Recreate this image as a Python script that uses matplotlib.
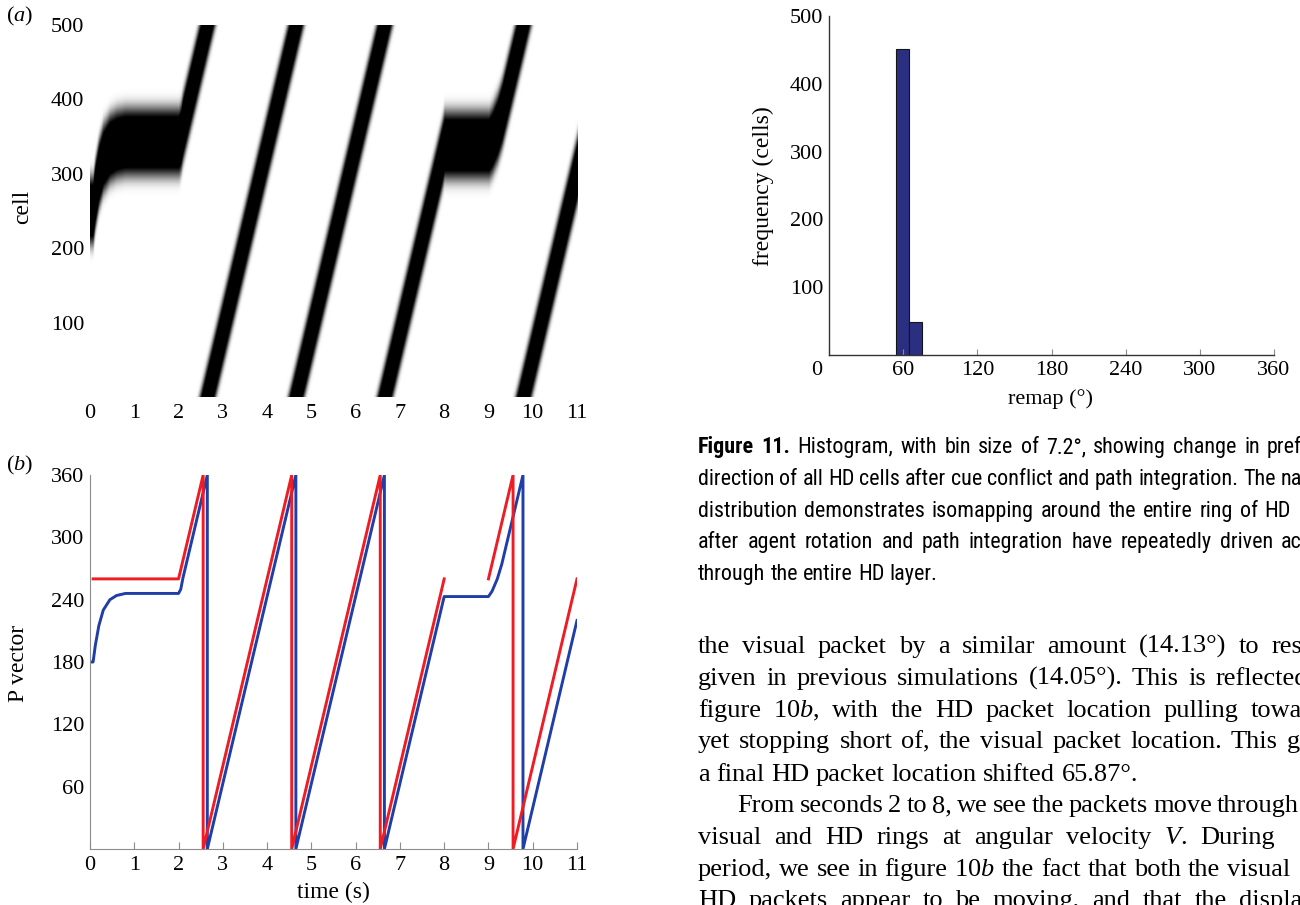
import numpy as np
import matplotlib
matplotlib.use("Agg")
import matplotlib.pyplot as plt
from matplotlib import font_manager as fm
from matplotlib.transforms import Affine2D, ScaledTranslation

W, H = 1300, 905

# ---- values ----
# (b) P vector direction (deg) against time (s): visual packet red, HD packet blue
vis_t = [0.07, 2.0, 2.556, 2.556, 4.556, 4.556, 6.556, 6.556, 8.0, np.nan,
         9.0, 9.556, 9.556, 11.0]
vis_deg = [260, 260, 360, 0, 360, 0, 360, 0, 260, np.nan, 260, 360, 0, 260]
hd_t = [0, 0.07, 0.12, 0.2, 0.3, 0.45, 0.6, 0.8, 2.0, 2.05, 2.1, 2.65, 2.65,
        4.65, 4.65, 6.65, 6.65, 8.0, 9.0, 9.08, 9.2, 9.3, 9.78, 9.78, 11.0]
hd_deg = [180, 180, 196, 215, 230, 240, 244, 246, 246, 250, 261, 360, 0,
          360, 0, 360, 0, 243, 243, 248, 260, 274, 360, 0, 220]

# (a) HD ring activity, 500 cells, packet follows the HD direction above
n_cells = 500

# figure 11 histogram
remap_edges = [54.5, 65.0, 75.5]
remap_counts = [452, 48]

time_ticks = list(range(12))
cell_ticks = [100, 200, 300, 400, 500]
pvec_ticks = [60, 120, 180, 240, 300, 360]
remap_ticks = [0, 60, 120, 180, 240, 300, 360]
freq_ticks = [100, 200, 300, 400, 500]

# page text: (line, baseline y px, start x px, justify-to x px or None)
caption = [
    ("Figure 11. Histogram, with bin size of 7.2°, showing change in pref", 453, 698, 1302),
    ("direction of all HD cells after cue conflict and path integration. The na", 485, 698, 1302),
    ("distribution demonstrates isomapping around the entire ring of HD", 517, 698, 1291),
    ("after agent rotation and path integration have repeatedly driven ac", 548, 698, 1302),
    ("through the entire HD layer.", 580, 698, None),
]
body = [
    ("the visual packet by a similar amount (14.13°) to res", 653, 698, 1302),
    ("given in previous simulations (14.05°). This is reflected", 685, 698, 1308),
    ("figure 10$b$, with the HD packet location pulling towa", 717, 698, 1302),
    ("yet stopping short of, the visual packet location. This g", 748, 698, 1300),
    ("a final HD packet location shifted 65.87°.", 781, 698, None),
    ("From seconds 2 to 8, we see the packets move through", 812, 737, 1299),
    ("visual and HD rings at angular velocity $V$. During", 844, 698, 1275),
    ("period, we see in figure 10$b$ the fact that both the visual", 876, 698, 1290),
    ("HD packets appear to be moving, and that the displa", 907, 698, 1302),
]

SERIF = "Liberation Serif"
plt.rcParams.update({
    "font.family": SERIF,
    "mathtext.fontset": "custom",
    "mathtext.rm": SERIF,
    "mathtext.it": SERIF + ":italic",
    "mathtext.bf": SERIF + ":bold",
})

# caption is set in a narrow sans on the page
have = {f.name for f in fm.fontManager.ttflist}
dv_cond = [f for f in fm.fontManager.ttflist
           if f.name == "DejaVu Sans" and "condensed" in str(f.stretch)]
if "Liberation Sans Narrow" in have:
    cap_font = {"family": "Liberation Sans Narrow"}
elif "Roboto Condensed" in have:
    cap_font = {"family": "Roboto Condensed"}
elif dv_cond:
    cap_font = {"family": "DejaVu Sans", "stretch": "condensed"}
else:
    cap_font = {"family": "Liberation Sans"}

BLUE = "#1f3ea8"
RED = "#ee1d25"
BAR = "#2b2f82"
AXGREY = "#8c8c8c"

fig = plt.figure(figsize=(W / 100, H / 100), dpi=100)
rend = fig.canvas.get_renderer()
PX = Affine2D().scale(1, -1).translate(0, H)  # page pixels, origin top left


def box(x0, y0, x1, y1):
    return [x0 / W, 1 - y1 / H, (x1 - x0) / W, (y1 - y0) / H]


def width_of(s, size, **font):
    t = fig.text(0, 0, s, fontsize=size, transform=PX, **font)
    w = t.get_window_extent(rend).width
    t.remove()
    return w


def text_line(s, x0, y, x_end, size, n_bold=0, **font):
    parts = []
    for i, word in enumerate(s.split(" ")):
        weight = "bold" if i < n_bold else "normal"
        t = fig.text(x0, y, word, transform=PX, fontsize=size,
                     va="baseline", weight=weight, **font)
        parts.append((t, t.get_window_extent(rend).width))
    used = sum(w for _, w in parts)
    if x_end is None or len(parts) < 2:
        gap = width_of("n n", size, **font) - width_of("nn", size, **font)
    else:
        gap = (x_end - x0 - used) / (len(parts) - 1)
    x = x0
    for t, w in parts:
        t.set_x(x)
        x += w + gap


TICK = 16

# ---------- (a) activity of the HD ring ----------
ax_a = fig.add_axes(box(90, 25, 577, 397))
tt = np.linspace(0, 11, 1101)
cells = np.arange(n_cells) + 0.5
centre = np.interp(tt, hd_t, hd_deg) * n_cells / 360.0
d = np.abs(cells[:, None] - centre[None, :])
d = np.minimum(d, n_cells - d)
act = np.exp(-(d / 46.0) ** 4)
ax_a.imshow(act, extent=[0, 11, 0, n_cells], origin="lower", aspect="auto",
            cmap="gray_r", vmin=0, vmax=0.75)
ax_a.set_xlim(0, 11)
ax_a.set_ylim(0, n_cells)
ax_a.set_xticks(time_ticks)
ax_a.set_yticks(cell_ticks)
for sp in ax_a.spines.values():
    sp.set_visible(False)
ax_a.tick_params(length=0, labelsize=TICK)
ax_a.tick_params(axis="x", pad=5)
ax_a.tick_params(axis="y", pad=4)
ax_a.set_ylabel("cell", fontsize=17, va="center")
ax_a.yaxis.set_label_coords(23, 207, transform=PX)
fig.text(20, 16, "($a$)", transform=PX, fontsize=16, ha="center", va="center")

# ---------- (b) P vector ----------
ax_b = fig.add_axes(box(90, 475, 577, 849))
ax_b.plot(hd_t, hd_deg, color=BLUE, lw=2.1)
ax_b.plot(vis_t, vis_deg, color=RED, lw=2.1)
ax_b.set_xlim(0, 11)
ax_b.set_ylim(0, 360)
ax_b.set_xticks(time_ticks)
ax_b.set_yticks(pvec_ticks)
ax_b.spines[["top", "right"]].set_visible(False)
for s in ("left", "bottom"):
    ax_b.spines[s].set_color(AXGREY)
    ax_b.spines[s].set_linewidth(0.8)
ax_b.tick_params(labelsize=TICK)
ax_b.tick_params(axis="x", direction="in", length=5, color=AXGREY, pad=5)
ax_b.tick_params(axis="y", length=0, pad=4)
ax_b.set_ylabel("P vector", fontsize=17, va="center")
ax_b.yaxis.set_label_coords(19, 663, transform=PX)
ax_b.set_xlabel("time (s)", fontsize=17, va="center")
ax_b.xaxis.set_label_coords(333, 892, transform=PX)
fig.text(20, 465, "($b$)", transform=PX, fontsize=16, ha="center", va="center")

# ---------- figure 11 histogram ----------
ax_h = fig.add_axes(box(829, 16, 1274, 355))
ax_h.bar(remap_edges[:-1], remap_counts, width=np.diff(remap_edges), align="edge",
         color=BAR, edgecolor="#151515", linewidth=0.8)
ax_h.set_xlim(0, 360)
ax_h.set_ylim(0, 500)
ax_h.set_xticks(remap_ticks)
ax_h.set_yticks(freq_ticks)
ax_h.spines[["top", "right"]].set_visible(False)
for s in ("left", "bottom"):
    ax_h.spines[s].set_color("#333333")
    ax_h.spines[s].set_linewidth(1.0)
ax_h.tick_params(labelsize=TICK)
ax_h.tick_params(axis="x", direction="in", length=4, color=AXGREY, pad=4)
ax_h.tick_params(axis="y", length=0, pad=4)
# the "0" sits a little left of the y axis on the page
zero = ax_h.get_xticklabels()[0]
zero.set_transform(zero.get_transform() + ScaledTranslation(-0.12, 0, fig.dpi_scale_trans))
ax_h.set_ylabel("frequency (cells)", fontsize=17, va="center")
ax_h.yaxis.set_label_coords(763, 186, transform=PX)
ax_h.set_xlabel("remap (°)", fontsize=16, va="center")
ax_h.xaxis.set_label_coords(1050, 399, transform=PX)

# ---------- caption and running text ----------
cap_size = 20 * 238 / width_of("through the entire HD layer.", 20, **cap_font)
body_size = 20 * 278 / width_of("a final HD packet location", 20, family=SERIF)

for i, (s, y, x0, x1) in enumerate(caption):
    text_line(s, x0, y, x1, cap_size, n_bold=2 if i == 0 else 0, **cap_font)
for s, y, x0, x1 in body:
    text_line(s, x0, y, x1, body_size, family=SERIF)

fig.savefig("out.png", dpi=100)
